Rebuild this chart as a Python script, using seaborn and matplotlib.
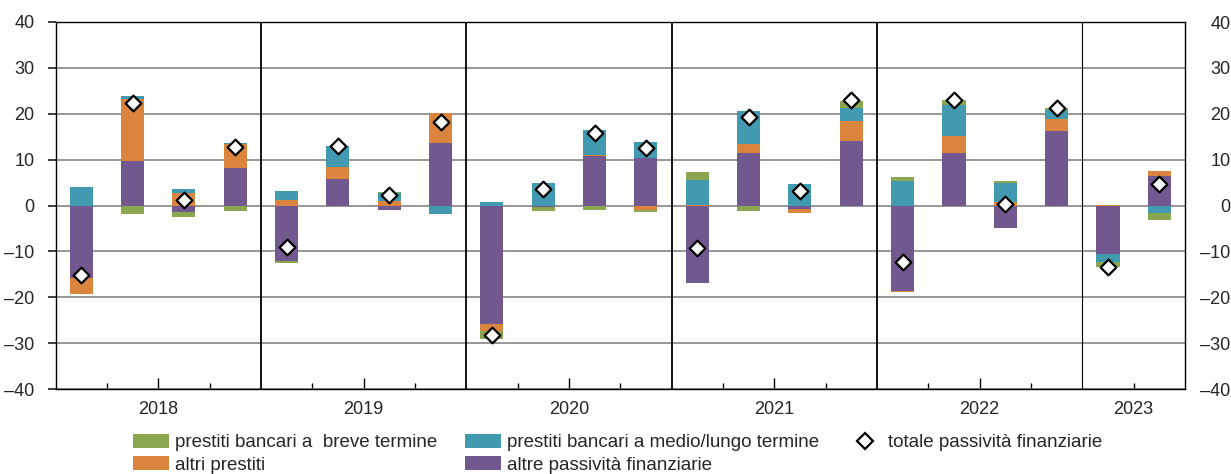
import numpy as np
import matplotlib
matplotlib.use("Agg")
import matplotlib.pyplot as plt
import seaborn as sns
from matplotlib.patches import Patch
from matplotlib.lines import Line2D
from matplotlib.ticker import FuncFormatter

# ---------------- data ----------------
years = ["2018", "2019", "2020", "2021", "2022", "2023"]
quarters_per_year = [4, 4, 4, 4, 4, 2]

# quarterly values 2018Q1 .. 2023Q2
breve = [0.0, -1.75, -0.9, -1.1, -0.45, -0.2, 0.3, 0.0, -1.7, -1.0, -0.9,
         -0.45, 1.7, -1.3, 0.0, 1.5, 0.9, 1.1, 0.6, 0.45, -0.95, -1.5]
medio_lungo = [4.1, 0.65, 0.9, 0.2, 2.0, 4.6, 1.7, -1.75, 0.8, 4.95, 5.45,
               3.5, 5.5, 7.2, 4.7, 2.85, 5.4, 6.75, 4.0, 1.95, -1.8, -1.6]
altri_prestiti = [-3.6, 13.5, 2.75, 5.2, 1.25, 2.6, 1.0, 6.5, -1.5, 0.0, 0.35,
                  -0.9, 0.15, 2.0, -1.0, 4.35, -0.2, 3.7, 0.8, 2.6, 0.15, 1.1]
altre_passivita = [-15.7, 9.75, -1.5, 8.2, -12.1, 5.8, -0.9, 13.7, -25.8, -0.3,
                   10.7, 10.4, -16.8, 11.5, -0.7, 14.1, -18.6, 11.5, -5.0, 16.3,
                   -10.55, 6.5]
totale = [-15.2, 22.3, 1.3, 12.65, -8.95, 12.9, 2.25, 18.3, -28.2, 3.6, 15.85,
          12.5, -9.3, 19.35, 3.1, 23.05, -12.4, 23.1, 0.35, 21.2, -13.3, 4.65]

labels = {
    "breve": "prestiti bancari a  breve termine",
    "medio": "prestiti bancari a medio/lungo termine",
    "altri": "altri prestiti",
    "altre": "altre passività finanziarie",
    "tot": "totale passività finanziarie",
}
colors = {
    "breve": "#8aa64e",
    "medio": "#429ab0",
    "altri": "#db843d",
    "altre": "#71588f",
}

# ---------------- style ----------------
sns.set_theme(style="white")
plt.rcParams["font.family"] = ["Liberation Sans", "DejaVu Sans"]
FS = 13.5
TFS = 13

fig = plt.figure(figsize=(12.31, 4.74), dpi=100)
ax = fig.add_axes([55.5 / 1231, 1 - 389 / 474, (1185 - 55.5) / 1231, (389 - 22) / 474])

n = len(totale)
x = np.arange(n)
pos = np.zeros(n)
neg = np.zeros(n)
for key, vals in [("altre", altre_passivita), ("altri", altri_prestiti),
                  ("medio", medio_lungo), ("breve", breve)]:
    v = np.array(vals, dtype=float)
    bottom = np.where(v >= 0, pos, neg)
    ax.bar(x, v, bottom=bottom, width=0.45, color=colors[key], linewidth=0, zorder=3)
    pos = pos + np.where(v >= 0, v, 0)
    neg = neg + np.where(v < 0, v, 0)

sns.scatterplot(x=x, y=totale, marker="D", s=64, color="white",
                edgecolor="black", linewidth=1.6, zorder=5, ax=ax, legend=False)

yfmt = FuncFormatter(lambda v, p: f"{int(v)}".replace("-", "\u2013"))
yticks = list(range(-40, 41, 10))

ax.set_xlim(-0.5, n - 0.5)
ax.set_ylim(-40, 40)
ax.set_yticks(yticks)
ax.yaxis.set_major_formatter(yfmt)
ax.yaxis.grid(True, color="#858585", linewidth=1.2, zorder=0)
ax.xaxis.grid(False)
ax.set_axisbelow(True)

# year separators and ticks
starts = np.concatenate([[0], np.cumsum(quarters_per_year)[:-1]])
ends = np.cumsum(quarters_per_year)
boundaries = ends[:-1] - 0.5
for i, b in enumerate(boundaries):
    ax.axvline(b, color="black", linewidth=1.3 if i < len(boundaries) - 1 else 0.8, zorder=4)

centers = starts + np.array(quarters_per_year) / 2 - 0.5
ax.set_xticks(centers)
ax.set_xticklabels(years)
all_q = np.arange(0.5, n - 0.5, 1.0)
minor = [q for q in all_q if not np.any(np.isclose(q, boundaries)) and not np.any(np.isclose(q, centers))]
ax.set_xticks(minor, minor=True)
ax.tick_params(axis="x", which="major", direction="in", length=8, width=1,
               color="black", pad=9, labelsize=TFS, bottom=True)
ax.tick_params(axis="x", which="minor", direction="in", length=4, width=1,
               color="black", bottom=True)
ax.xaxis.get_major_ticks()[-1].tick1line.set_markersize(4)

ax.tick_params(axis="y", which="both", left=False, right=False,
               labelleft=True, labelright=False, pad=9, labelsize=TFS)
ax.set_xlabel("")
ax.set_ylabel("")
for s in ax.spines.values():
    s.set_visible(True)
    s.set_color("black")
    s.set_linewidth(1.0)

# right-hand axis labels, right-aligned just inside the figure edge
ax2 = ax.twinx()
ax2.set_ylim(-40, 40)
ax2.set_yticks(yticks)
ax2.yaxis.set_major_formatter(yfmt)
right_pad_pt = (1222 - 1185) * 72.0 / fig.dpi
ax2.tick_params(axis="y", which="both", right=False, left=False,
                labelright=True, pad=right_pad_pt, labelsize=TFS)
for t in ax2.yaxis.get_major_ticks():
    t.label2.set_horizontalalignment("right")
ax2.grid(False)
for s in ax2.spines.values():
    s.set_visible(False)

# legend
handles = [
    Patch(facecolor=colors["breve"], edgecolor="none", label=labels["breve"]),
    Patch(facecolor=colors["altri"], edgecolor="none", label=labels["altri"]),
    Patch(facecolor=colors["medio"], edgecolor="none", label=labels["medio"]),
    Patch(facecolor=colors["altre"], edgecolor="none", label=labels["altre"]),
    Line2D([], [], marker="D", linestyle="", markerfacecolor="white",
           markeredgecolor="black", markeredgewidth=1.6, markersize=8, label=labels["tot"]),
]
fig.legend(handles=handles, ncol=3, loc="upper left",
           bbox_to_anchor=(133 / 1231, 1 - 434 / 474), frameon=False,
           handlelength=1.9, handleheight=0.75, handletextpad=0.32,
           columnspacing=1.5, labelspacing=0.25, borderpad=0, borderaxespad=0,
           fontsize=FS)

fig.savefig("out.png", dpi=100)
